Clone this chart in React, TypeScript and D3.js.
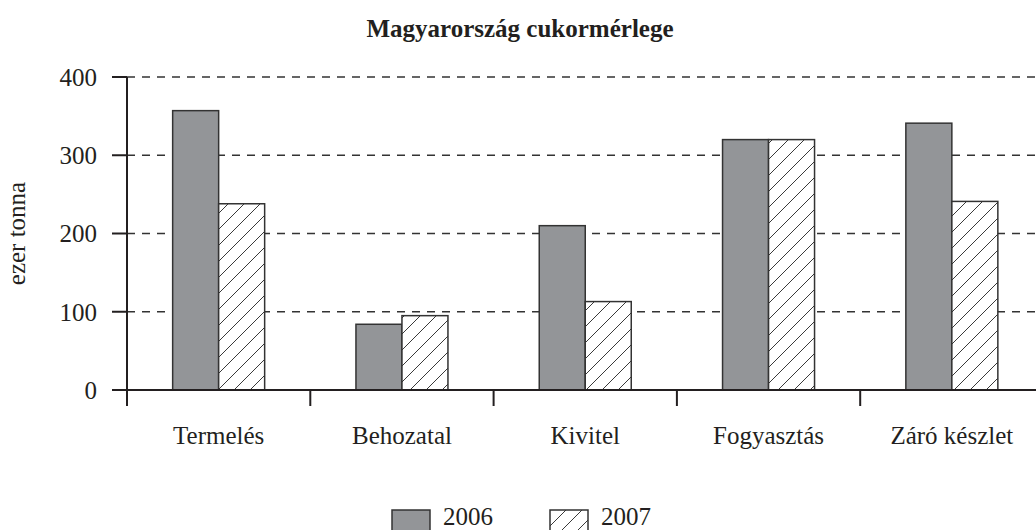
import React from "react";
import * as d3 from "d3";

const categories = ["Termelés", "Behozatal", "Kivitel", "Fogyasztás", "Záró készlet"];
const series = ["2006", "2007"];
const values2006 = [357, 84, 210, 320, 341];
const values2007 = [238, 95, 113, 320, 241];
const yTicks = [0, 100, 200, 300, 400];

const W = 1036;
const H = 530;
const FONT = "'Liberation Serif', 'Times New Roman', serif";
const INK = "#231f20";
const GREY = "#939598";

export default function App() {
  const x0 = 127;
  const band = 183.3;
  const barW = 46;
  const x = d3
    .scaleBand<string>()
    .domain(categories)
    .range([x0, x0 + band * categories.length])
    .paddingInner(0)
    .paddingOuter(0);
  const xs = d3
    .scaleBand<string>()
    .domain(series)
    .range([band / 2 - barW, band / 2 + barW])
    .paddingInner(0)
    .paddingOuter(0);
  const y = d3.scaleLinear().domain([0, 400]).range([390, 77]);

  const data = categories.map((c, i) => ({ c, v: [values2006[i], values2007[i]] }));
  const bw = xs.bandwidth();

  return (
    <div style={{ position: "absolute", left: 0, top: 0 }}>
      <svg width={W} height={H} style={{ display: "block" }} fontFamily={FONT}>
        <defs>
          <pattern id="hatch" patternUnits="userSpaceOnUse" width={16} height={16}>
            <rect width={16} height={16} fill="#fff" />
            <path d="M0,16 L16,0 M-4,4 L4,-4 M12,20 L20,12" stroke="#3a3a3a" strokeWidth={1} />
          </pattern>
        </defs>
        <text x={520} y={37} textAnchor="middle" fontWeight="bold" fontSize={25} fill={INK}>
          Magyarország cukormérlege
        </text>
        {/* gridlines */}
        {yTicks
          .filter((t) => t > 0)
          .map((t) => (
            <line key={t} x1={x0} x2={W} y1={y(t)} y2={y(t)} stroke="#333" strokeWidth={1.4} strokeDasharray="8,7" />
          ))}
        {/* bars */}
        {data.map((d) =>
          d.v.map((v, j) => (
            <rect
              key={d.c + j}
              x={(x(d.c) as number) + (xs(series[j]) as number)}
              y={y(v)}
              width={bw}
              height={y(0) - y(v)}
              fill={j === 0 ? GREY : "url(#hatch)"}
              stroke="#333"
              strokeWidth={1.5}
            />
          ))
        )}
        {/* y axis */}
        <line x1={x0} x2={x0} y1={y(400)} y2={y(0) + 16} stroke={INK} strokeWidth={2} />
        {yTicks.map((t) => (
          <g key={t}>
            <line x1={x0 - 15} x2={x0} y1={y(t)} y2={y(t)} stroke={INK} strokeWidth={2} />
            <text x={97} y={y(t)} dy="0.35em" textAnchor="end" fontSize={25} fill={INK}>
              {t}
            </text>
          </g>
        ))}
        {/* x axis */}
        <line x1={x0 - 15} x2={x0 + band * 5} y1={y(0)} y2={y(0)} stroke={INK} strokeWidth={2} />
        {categories.map((c, i) => (
          <line
            key={"t" + c}
            x1={x0 + band * (i + 1)}
            x2={x0 + band * (i + 1)}
            y1={y(0)}
            y2={y(0) + 16}
            stroke={INK}
            strokeWidth={2}
          />
        ))}
        {categories.map((c) => (
          <text
            key={"l" + c}
            x={(x(c) as number) + band / 2}
            y={444}
            textAnchor="middle"
            fontSize={25}
            fill={INK}
          >
            {c}
          </text>
        ))}
        <text
          transform={`translate(25,${(y(0) + y(400)) / 2}) rotate(-90)`}
          textAnchor="middle"
          fontSize={25}
          fill={INK}
        >
          ezer tonna
        </text>
        {/* legend */}
        {series.map((s, j) => (
          <g key={s} transform={`translate(${392 + j * 158},510)`}>
            <rect width={38} height={26} fill={j === 0 ? GREY : "url(#hatch)"} stroke="#333" strokeWidth={1.5} />
            <text x={51} y={15} fontSize={25} fill={INK}>
              {s}
            </text>
          </g>
        ))}
      </svg>
    </div>
  );
}
